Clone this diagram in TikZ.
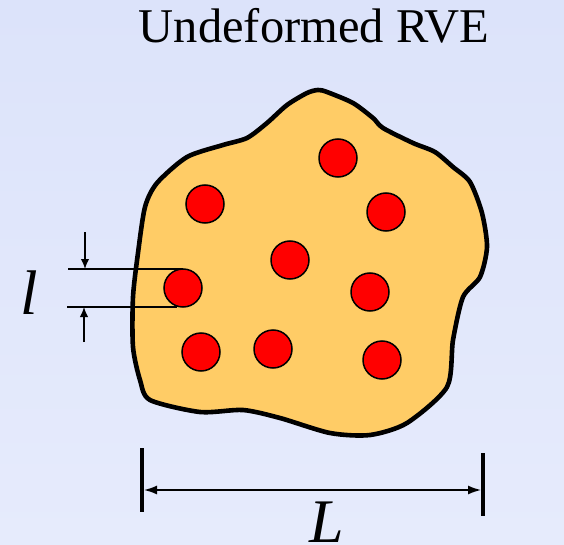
\documentclass[tikz,border=0pt]{standalone}
\usepackage{fontspec}
\setmainfont{Liberation Serif}
\usetikzlibrary{arrows.meta}
\definecolor{bgtop}{HTML}{DCE3FA}
\definecolor{bgbot}{HTML}{E6EBFC}
\definecolor{matrixfill}{HTML}{FFCC66}
\definecolor{fibre}{HTML}{FF0000}
\tikzset{
  fibrestyle/.style={circle, draw=black, line width=1.5pt, fill=fibre, minimum size=38pt, inner sep=0pt, outer sep=0pt},
  dimline/.style={line width=1.4pt},
  barline/.style={line width=3.8pt},
  smallarrow/.style={line width=1.4pt, -{Latex[length=10pt,width=8.5pt]}},
  bigarrow/.style={line width=1.5pt, {Latex[length=13pt,width=9pt]}-{Latex[length=13pt,width=9pt]}},
  lbl/.style={inner sep=0pt, anchor=base},
}
\begin{document}
\begin{tikzpicture}[x=1pt,y=-1pt]
\shade[top color=bgtop, bottom color=bgbot] (0,0) rectangle (564,545);
\useasboundingbox (0,0) rectangle (564,545);
\node[lbl, font=\fontsize{48.5}{52}\selectfont] (title) at (314,43) {Undeformed RVE};
% matrix blob
\draw[line width=4.6pt, fill=matrixfill, line join=round] plot[smooth cycle, tension=0.45] coordinates {
 (318,90) (327,92) (353,103) (373,118) (383,128) (413,143) (435,152) (453,167) (470,182)
 (482,213) (487,247) (480,277) (463,297) (453,340) (447,387) (407,423) (370,435) (330,433)
 (280,418) (243,410) (200,412) (150,400) (140,380) (133,347) (133,297) (138,253) (145,207)
 (157,183) (187,157) (223,145) (247,138) (267,123) (287,105) (307,93)};
% dimension l
\coordinate (lt) at (68,269);
\coordinate (lb) at (67,307);
\coordinate (at1) at (85,232);
\coordinate (at2) at (85,269);
\coordinate (ab1) at (84,342);
\coordinate (ab2) at (84,307);
\draw[dimline] (lt) -- (183,269) coordinate (lte);
\draw[dimline] (lb) -- (177,307) coordinate (lbe);
\draw[smallarrow] (at1) -- (at2);
\draw[smallarrow] (ab1) -- (ab2);
\node[lbl, font=\fontsize{63}{66}\selectfont\itshape] (lsym) at (29,314) {l};
% fibres
\node[fibrestyle] (f1) at (338,158) {};
\node[fibrestyle] (f2) at (205,204) {};
\node[fibrestyle] (f3) at (386,212) {};
\node[fibrestyle] (f4) at (290,260) {};
\node[fibrestyle] (f5) at (183,288) {};
\node[fibrestyle] (f6) at (370,292) {};
\node[fibrestyle] (f7) at (201,352) {};
\node[fibrestyle] (f8) at (273,349) {};
\node[fibrestyle] (f9) at (382,360) {};
% dimension L
\coordinate (b1t) at (142,448);
\coordinate (b1b) at (142,512);
\coordinate (b2t) at (483,453);
\coordinate (b2b) at (483,516);
\draw[barline] (b1t) -- (b1b);
\draw[barline] (b2t) -- (b2b);
\coordinate (La) at (144,490);
\coordinate (Lb) at (481,490);
\draw[bigarrow] (La) -- (Lb);
\node[lbl, font=\fontsize{62}{65}\selectfont\itshape] (Lsym) at (327,542) {L};
\end{tikzpicture}
\end{document}
